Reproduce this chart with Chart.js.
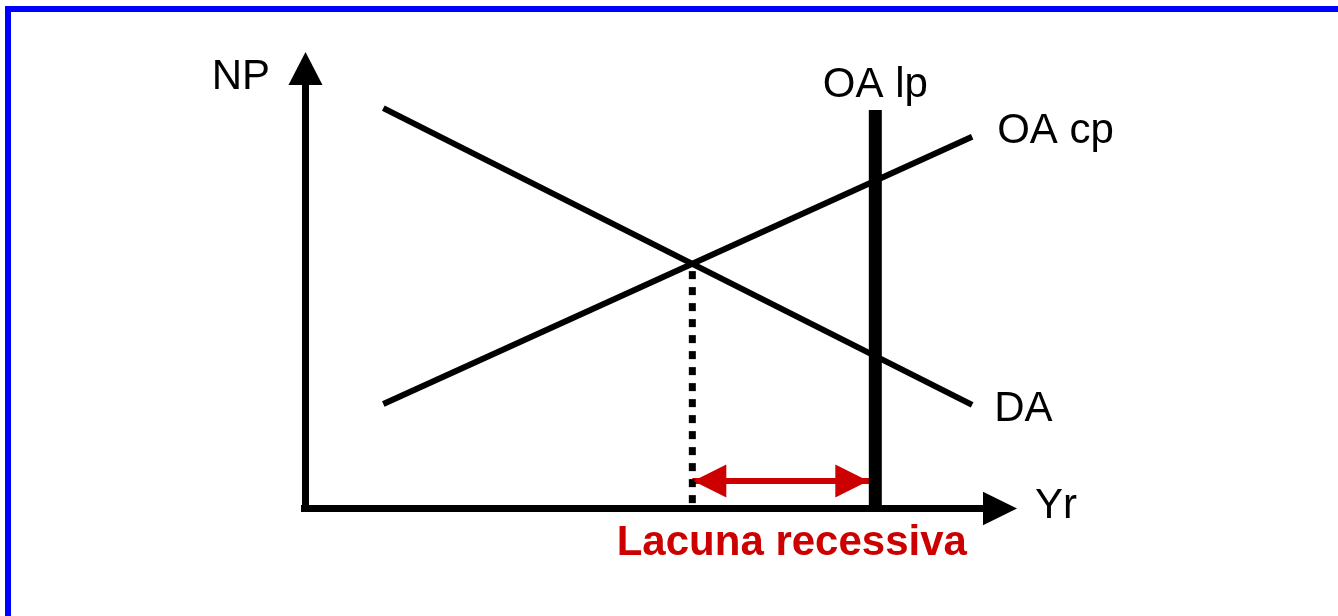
<!DOCTYPE html>
<html>
<head>
<meta charset="utf-8">
<script src="https://cdn.jsdelivr.net/npm/chart.js@4.4.1/dist/chart.umd.min.js"></script>
<style>
    html, body { margin: 0; padding: 0; background: #ffffff; }
    #wrap { position: relative; width: 1338px; height: 616px; overflow: hidden; }
    #frame {
        position: absolute; left: 5px; top: 6px; right: -10px; bottom: -10px;
        border-top: 6px solid #0000ff; border-left: 6px solid #0000ff;
        pointer-events: none;
    }
    canvas { position: absolute; left: 0; top: 0; }
</style>
</head>
<body>
<div id="wrap">
    <canvas id="adChart" width="1338" height="616"></canvas>
    <div id="frame"></div>
</div>
<script>
// Data (in diagram units: Yr on x, NP on y, both 0..100)
const daCurve = [{ x: 11, y: 87.7 }, { x: 93.7, y: 22.6 }];
const oacpCurve = [{ x: 11, y: 22.8 }, { x: 93.7, y: 81.4 }];
const oalpLine = [{ x: 80.1, y: 0 }, { x: 80.1, y: 87.3 }];
const equilibrium = [{ x: 54.4, y: 53.7 }, { x: 54.4, y: 0.6 }];
const gapArrow = [{ x: 54.4, y: 5.9 }, { x: 80.1, y: 5.9 }];

const curveNames = ['DA', 'OA cp', 'OA lp'];
const axisNames = ['Yr', 'NP'];
const gapName = 'Lacuna recessiva';

const RED = '#cc0000';
const FONT = '"Liberation Sans", Arial, sans-serif';

// Draw an arrowhead with its tip at (tx, ty), pointing along angle
function arrowHead(ctx, tx, ty, angle, len, half, color) {
    ctx.save();
    ctx.translate(tx, ty);
    ctx.rotate(angle);
    ctx.beginPath();
    ctx.moveTo(0, 0);
    ctx.lineTo(-len, -half);
    ctx.lineTo(-len, half);
    ctx.closePath();
    ctx.fillStyle = color;
    ctx.fill();
    ctx.restore();
}

// Axes, arrowheads and labels
const diagramPlugin = {
    id: 'diagram',
    afterDatasetsDraw(chart) {
        const ctx = chart.ctx;
        const xs = chart.scales.x;
        const ys = chart.scales.y;
        const x0 = xs.getPixelForValue(0);
        const y0 = ys.getPixelForValue(0);
        const xTip = xs.getPixelForValue(100);
        const yTip = ys.getPixelForValue(100);

        ctx.save();
        ctx.fillStyle = '#000';
        // y axis
        ctx.fillRect(x0 - 3, yTip + 30, 7, y0 - yTip - 27);
        arrowHead(ctx, x0 + 0.5, yTip, -Math.PI / 2, 33, 17, '#000');
        // x axis
        ctx.fillRect(x0 - 4, y0 - 3, xTip - x0 - 28, 7);
        arrowHead(ctx, xTip, y0 + 0.5, 0, 34, 16.7, '#000');

        // gap arrowheads
        const gy = ys.getPixelForValue(gapArrow[0].y);
        const gx1 = xs.getPixelForValue(gapArrow[0].x);
        const gx2 = xs.getPixelForValue(gapArrow[1].x);
        arrowHead(ctx, gx1 + 1, gy, Math.PI, 33, 16.5, RED);
        arrowHead(ctx, gx2 - 7, gy, 0, 33, 16.5, RED);

        // labels
        ctx.font = '42px ' + FONT;
        ctx.fillStyle = '#000';
        ctx.textBaseline = 'alphabetic';

        ctx.textAlign = 'right';
        ctx.fillText(axisNames[1], x0 - 35, yTip + 37);

        ctx.textAlign = 'left';
        ctx.fillText(axisNames[0], xTip + 18, y0 + 10);

        const daEnd = daCurve[1];
        ctx.fillText(curveNames[0], xs.getPixelForValue(daEnd.x) + 22, ys.getPixelForValue(daEnd.y) + 16);

        const cpEnd = oacpCurve[1];
        ctx.fillText(curveNames[1], xs.getPixelForValue(cpEnd.x) + 25, ys.getPixelForValue(cpEnd.y) + 6);

        ctx.textAlign = 'center';
        const lpTop = oalpLine[1];
        ctx.fillText(curveNames[2], xs.getPixelForValue(lpTop.x), ys.getPixelForValue(lpTop.y) - 13);

        ctx.font = 'bold 42px ' + FONT;
        ctx.fillStyle = RED;
        ctx.fillText(gapName, (gx1 + gx2) / 2 + 8, y0 + 47);
        ctx.restore();
    }
};

function lineSet(data, color, width, dash, dashOffset) {
    return {
        data: data,
        showLine: true,
        borderColor: color,
        backgroundColor: color,
        borderWidth: width,
        borderDash: dash || [],
        borderDashOffset: dashOffset || 0,
        borderCapStyle: 'butt',
        pointRadius: 0,
        pointHoverRadius: 0,
        clip: false
    };
}

new Chart(document.getElementById('adChart'), {
    type: 'scatter',
    data: {
        datasets: [
            lineSet(daCurve, '#000', 6),
            lineSet(oacpCurve, '#000', 6),
            lineSet(equilibrium, '#000', 7, [8, 8], 8),
            lineSet(oalpLine, '#000', 13),
            lineSet(gapArrow, RED, 6)
        ]
    },
    options: {
        responsive: false,
        animation: false,
        devicePixelRatio: 1,
        layout: { padding: { left: 305, right: 321, top: 52, bottom: 108 } },
        plugins: {
            legend: { display: false },
            tooltip: { enabled: false }
        },
        scales: {
            x: { type: 'linear', min: 0, max: 100, display: false },
            y: { type: 'linear', min: 0, max: 100, display: false }
        }
    },
    plugins: [diagramPlugin]
});
</script>
</body>
</html>
